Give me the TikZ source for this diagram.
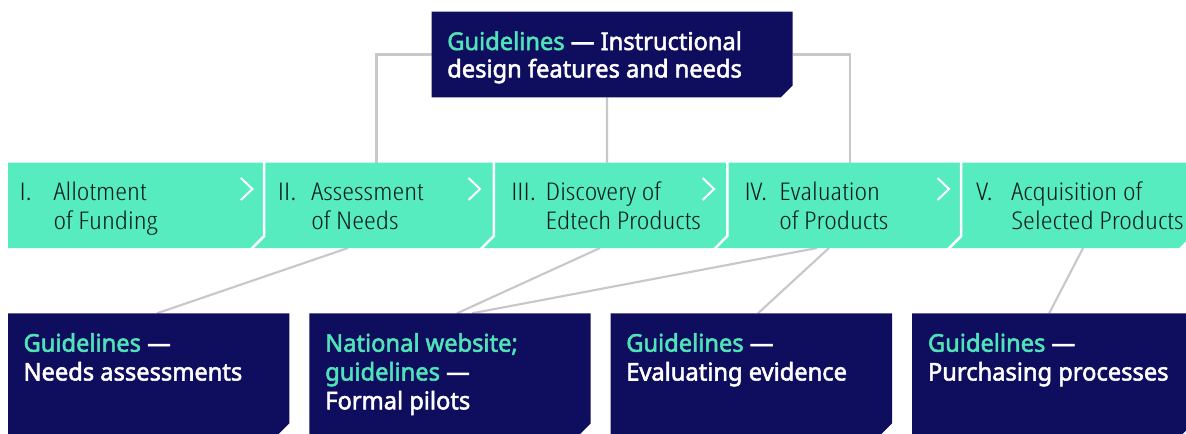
\documentclass[tikz,border=0pt]{standalone}
\usepackage{fontspec}
\setmainfont{Noto Sans}
% light face for the stage band, bold face for the guideline boxes
\IfFontExistsTF{Open Sans Condensed Light}
  {\newfontfamily\stagefont{Open Sans Condensed Light}[FakeStretch=1.24]}
  {\IfFontExistsTF{Fira Sans Light}
    {\newfontfamily\stagefont{Fira Sans Light}[FakeStretch=0.94]}
    {\newfontfamily\stagefont{Noto Sans}[FakeStretch=0.86]}}
\IfFontExistsTF{Noto Sans SemiCondensed Bold}
  {\newfontfamily\panefont{Noto Sans SemiCondensed Bold}}
  {\IfFontExistsTF{Noto Sans SemiCondensed SemiBold}
    {\newfontfamily\panefont{Noto Sans SemiCondensed SemiBold}}
    {\newfontfamily\panefont{Noto Sans}[FakeStretch=0.97, FakeBold=2.2]}}
\usetikzlibrary{fit,calc}
\definecolor{mint}{HTML}{57EBC0}
\definecolor{navy}{HTML}{0F0D5E}
\definecolor{mintink}{HTML}{50E3B8}
\definecolor{linkgray}{HTML}{C8C8C8}
\definecolor{stageink}{HTML}{0B1F18}

\begin{document}
\begin{tikzpicture}[x=0.75pt,y=-0.75pt,
  pane/.style={inner sep=0pt, outer sep=0pt,
    path picture={\fill[navy]
      (path picture bounding box.north west) --
      (path picture bounding box.north east) --
      ([yshift=9pt]path picture bounding box.south east) --
      ([xshift=-9pt]path picture bounding box.south east) --
      (path picture bounding box.south west) -- cycle;}},
  stagebox/.style={inner sep=0pt, outer sep=0pt},
  link/.style={draw=linkgray, line width=1.6pt},
  divider/.style={draw=white, line width=1.9pt},
  chevron/.style={draw=white, line width=1.5pt, line join=miter},
  panetext/.style={anchor=base west, inner sep=0pt, text=white,
    font=\panefont\fontsize{18.3}{21.6}\selectfont},
  stagenum/.style={anchor=base west, inner sep=0pt, text=stageink,
    font=\stagefont\fontsize{18.3}{21.5}\selectfont},
  stagetext/.style={anchor=base west, inner sep=0pt, text=stageink,
    font=\stagefont\fontsize{18.3}{21.5}\selectfont}]

\useasboundingbox (0,0) rectangle (1186,433);
\clip (0,0) rectangle (1186,433);

% the five process stages (named regions of the band)
\node[stagebox, fit={(8,162.5) (264.2,248)}] (s1) {};
\node[stagebox, fit={(264.2,162.5) (493.8,248)}] (s2) {};
\node[stagebox, fit={(493.8,162.5) (727.3,248)}] (s3) {};
\node[stagebox, fit={(727.3,162.5) (961.2,248)}] (s4) {};
\node[stagebox, fit={(961.2,162.5) (1191,248)}] (s5) {};

% guideline box regions
\node[stagebox, fit={(431.7,11.7) (792.7,97.3)}] (g) {};
\node[stagebox, fit={(8,313.3) (289.3,435.3)}] (dA) {};
\node[stagebox, fit={(309.3,313.3) (590.7,435.3)}] (dB) {};
\node[stagebox, fit={(610.7,313.3) (892,435.3)}] (dC) {};
\node[stagebox, fit={(912,313.3) (1193.3,435.3)}] (dD) {};

% connectors, drawn first so the boxes cover their ends
\draw[link] (g.west) -| ($(s2.north)+(-2.5,0)$);
\draw[link] ($(g.south)+(-5.2,0)$) -- ($(s3.north)+(-3.5,0)$);
\draw[link] (g.east) -| ($(s4.north)+(5.75,0)$);
\draw[link] ($(s2.south)+(-31,0)$) -- ($(dA.north)+(8.35,0)$);
\draw[link] ($(s3.south)+(-10.5,0)$) -- ($(dB.north)+(7,0)$);
\draw[link] ($(s4.south)+(-27.25,0)$) -- ($(dB.north)+(22,0)$);
\draw[link] ($(s4.south)+(-15.25,0)$) -- ($(dC.north)+(6.65,0)$);
\draw[link] ($(s5.south)+(7,0)$) -- ($(dD.north)+(-3.5,0)$);

% navy guideline boxes with chamfered corner
\node[pane, fit=(g)] {};
\node[pane, fit=(dA)] {};
\node[pane, fit=(dB)] {};
\node[pane, fit=(dC)] {};
\node[pane, fit=(dD)] {};

% mint band with chamfered end
\fill[mint] (s1.north west) -- (s5.north east) -- ($(s5.south east)+(0,-12)$)
  -- ($(s5.south east)+(-12,0)$) -- (s1.south west) -- cycle;

% white dividers between stages
\foreach \s in {s1,s2,s3,s4}{
  \draw[divider] ($(\s.north east)+(0,-2)$) -- ($(\s.south east)+(0,-12)$)
    -- ($(\s.south east)+(-14,2)$);
}

% chevrons
\foreach \s/\d in {s1/0.2, s2/-1.8, s3/-1.2, s4/-0.2}{
  \draw[chevron] ($(\s.north east)+(-23.5+\d,15.5)$) -- ($(\s.north east)+(-12+\d,26.5)$)
    -- ($(\s.north east)+(-23.5+\d,37.5)$);
}

% stage labels
\node[stagenum] (n1) at (19.3,200.7) {I.};
\node[stagetext] (l1) at (53.3,200.7) {\begin{tabular}[t]{@{}l@{}}Allotment\\of Funding\end{tabular}};
\node[stagenum] (n2) at (277.7,200.7) {II.};
\node[stagetext] (l2) at (311,200.7) {\begin{tabular}[t]{@{}l@{}}Assessment\\of Needs\end{tabular}};
\node[stagenum] (n3) at (511,200.7) {III.};
\node[stagetext] (l3) at (545.3,200.7) {\begin{tabular}[t]{@{}l@{}}Discovery of\\Edtech Products\end{tabular}};
\node[stagenum] (n4) at (744.3,200.7) {IV.};
\node[stagetext] (l4) at (779,200.7) {\begin{tabular}[t]{@{}l@{}}Evaluation\\of Products\end{tabular}};
\node[stagenum] (n5) at (976,200.7) {V.};
\node[stagetext] (l5) at (1011,200.7) {\begin{tabular}[t]{@{}l@{}}Acquisition of\\Selected Products\end{tabular}};

% guideline texts
\node[panetext, font=\panefont\fontsize{18.3}{20.6}\selectfont] (tg) at (447,50)
  {\begin{tabular}[t]{@{}l@{}}{\color{mintink}Guidelines} — Instructional\\design features and needs\end{tabular}};
\node[panetext] (tA) at (23.3,351.7)
  {\begin{tabular}[t]{@{}l@{}}{\color{mintink}Guidelines} —\\Needs assessments\end{tabular}};
\node[panetext] (tB) at (325,351.7)
  {\begin{tabular}[t]{@{}l@{}}{\color{mintink}National website;}\\{\color{mintink}guidelines} —\\Formal pilots\end{tabular}};
\node[panetext] (tC) at (626,351.7)
  {\begin{tabular}[t]{@{}l@{}}{\color{mintink}Guidelines} —\\Evaluating evidence\end{tabular}};
\node[panetext] (tD) at (927.7,351.7)
  {\begin{tabular}[t]{@{}l@{}}{\color{mintink}Guidelines} —\\Purchasing processes\end{tabular}};
\end{tikzpicture}
\end{document}
